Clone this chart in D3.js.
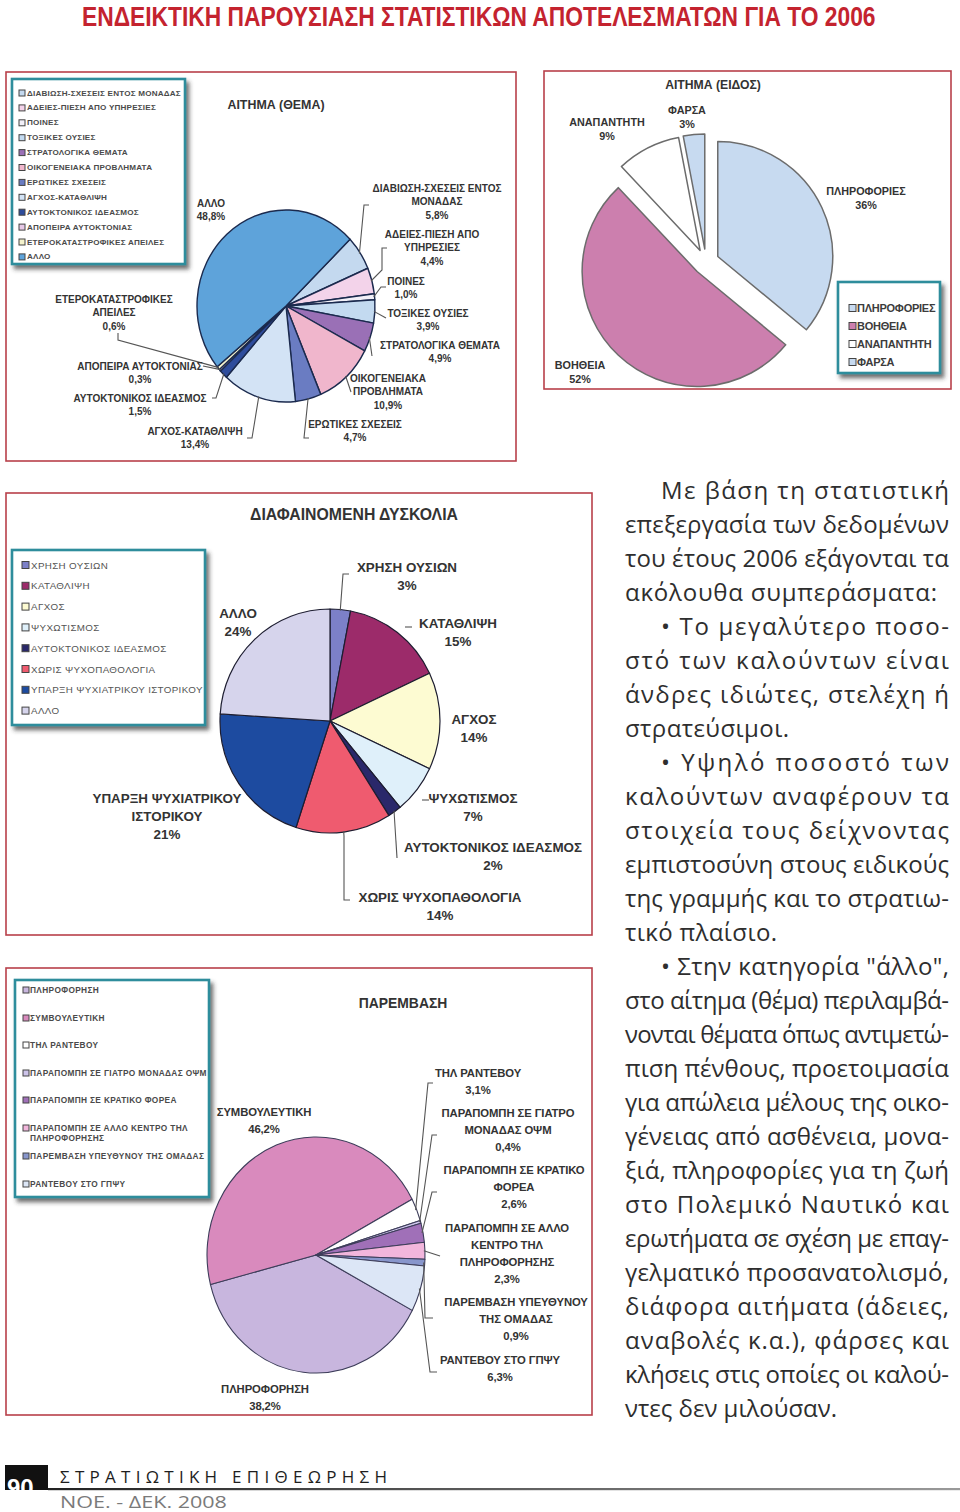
<!DOCTYPE html>
<html><head><meta charset="utf-8">
<script src="https://cdn.jsdelivr.net/npm/d3@7"></script>
<style>body{margin:0;background:#fff}svg{display:block}</style>
</head><body>
<script>
// ================= DATA =================
const pageTitle = "ΕΝΔΕΙΚΤΙΚΗ ΠΑΡΟΥΣΙΑΣΗ ΣΤΑΤΙΣΤΙΚΩΝ ΑΠΟΤΕΛΕΣΜΑΤΩΝ ΓΙΑ ΤΟ 2006";

// Chart 1 – ΑΙΤΗΜΑ (ΘΕΜΑ)
const themeTitle = "ΑΙΤΗΜΑ (ΘΕΜΑ)";
const themeCategories = ["ΔΙΑΒΙΩΣΗ-ΣΧΕΣΕΙΣ ΕΝΤΟΣ ΜΟΝΑΔΑΣ","ΑΔΕΙΕΣ-ΠΙΕΣΗ ΑΠΟ ΥΠΗΡΕΣΙΕΣ","ΠΟΙΝΕΣ","ΤΟΞΙΚΕΣ ΟΥΣΙΕΣ","ΣΤΡΑΤΟΛΟΓΙΚΑ ΘΕΜΑΤΑ","ΟΙΚΟΓΕΝΕΙΑΚΑ ΠΡΟΒΛΗΜΑΤΑ","ΕΡΩΤΙΚΕΣ ΣΧΕΣΕΙΣ","ΑΓΧΟΣ-ΚΑΤΑΘΛΙΨΗ","ΑΥΤΟΚΤΟΝΙΚΟΣ ΙΔΕΑΣΜΟΣ","ΑΠΟΠΕΙΡΑ ΑΥΤΟΚΤΟΝΙΑΣ","ΕΤΕΡΟΚΑΤΑΣΤΡΟΦΙΚΕΣ ΑΠΕΙΛΕΣ","ΑΛΛΟ"];
const themeValues = [5.8,4.4,1.0,3.9,4.9,10.9,4.7,13.4,1.5,0.3,0.6,48.8];
const themeLabelLines = [["ΔΙΑΒΙΩΣΗ-ΣΧΕΣΕΙΣ ΕΝΤΟΣ","ΜΟΝΑΔΑΣ"],["ΑΔΕΙΕΣ-ΠΙΕΣΗ ΑΠΟ","ΥΠΗΡΕΣΙΕΣ"],["ΠΟΙΝΕΣ"],["ΤΟΞΙΚΕΣ ΟΥΣΙΕΣ"],["ΣΤΡΑΤΟΛΟΓΙΚΑ ΘΕΜΑΤΑ"],["ΟΙΚΟΓΕΝΕΙΑΚΑ","ΠΡΟΒΛΗΜΑΤΑ"],["ΕΡΩΤΙΚΕΣ ΣΧΕΣΕΙΣ"],["ΑΓΧΟΣ-ΚΑΤΑΘΛΙΨΗ"],["ΑΥΤΟΚΤΟΝΙΚΟΣ ΙΔΕΑΣΜΟΣ"],["ΑΠΟΠΕΙΡΑ ΑΥΤΟΚΤΟΝΙΑΣ"],["ΕΤΕΡΟΚΑΤΑΣΤΡΟΦΙΚΕΣ","ΑΠΕΙΛΕΣ"],["ΑΛΛΟ"]];

// Chart 2 – ΑΙΤΗΜΑ (ΕΙΔΟΣ)
const typeTitle = "ΑΙΤΗΜΑ (ΕΙΔΟΣ)";
const typeCategories = ["ΠΛΗΡΟΦΟΡΙΕΣ","ΒΟΗΘΕΙΑ","ΑΝΑΠΑΝΤΗΤΗ","ΦΑΡΣΑ"];
const typeValues = [36,52,9,3];

// Chart 3 – ΔΙΑΦΑΙΝΟΜΕΝΗ ΔΥΣΚΟΛΙΑ
const diffTitle = "ΔΙΑΦΑΙΝΟΜΕΝΗ ΔΥΣΚΟΛΙΑ";
const diffCategories = ["ΧΡΗΣΗ ΟΥΣΙΩΝ","ΚΑΤΑΘΛΙΨΗ","ΑΓΧΟΣ","ΨΥΧΩΤΙΣΜΟΣ","ΑΥΤΟΚΤΟΝΙΚΟΣ ΙΔΕΑΣΜΟΣ","ΧΩΡΙΣ ΨΥΧΟΠΑΘΟΛΟΓΙΑ","ΥΠΑΡΞΗ ΨΥΧΙΑΤΡΙΚΟΥ ΙΣΤΟΡΙΚΟΥ","ΑΛΛΟ"];
const diffValues = [3,15,14,7,2,14,21,24];
const diffLabelLines = [["ΧΡΗΣΗ ΟΥΣΙΩΝ"],["ΚΑΤΑΘΛΙΨΗ"],["ΑΓΧΟΣ"],["ΨΥΧΩΤΙΣΜΟΣ"],["ΑΥΤΟΚΤΟΝΙΚΟΣ ΙΔΕΑΣΜΟΣ"],["ΧΩΡΙΣ ΨΥΧΟΠΑΘΟΛΟΓΙΑ"],["ΥΠΑΡΞΗ ΨΥΧΙΑΤΡΙΚΟΥ","ΙΣΤΟΡΙΚΟΥ"],["ΑΛΛΟ"]];

// Chart 4 – ΠΑΡΕΜΒΑΣΗ
const intTitle = "ΠΑΡΕΜΒΑΣΗ";
const intCategories = ["ΠΛΗΡΟΦΟΡΗΣΗ","ΣΥΜΒΟΥΛΕΥΤΙΚΗ","ΤΗΛ ΡΑΝΤΕΒΟΥ","ΠΑΡΑΠΟΜΠΗ ΣΕ ΓΙΑΤΡΟ ΜΟΝΑΔΑΣ ΟΨΜ","ΠΑΡΑΠΟΜΠΗ ΣΕ ΚΡΑΤΙΚΟ ΦΟΡΕΑ","ΠΑΡΑΠΟΜΠΗ ΣΕ ΑΛΛΟ ΚΕΝΤΡΟ ΤΗΛ ΠΛΗΡΟΦΟΡΗΣΗΣ","ΠΑΡΕΜΒΑΣΗ ΥΠΕΥΘΥΝΟΥ ΤΗΣ ΟΜΑΔΑΣ","ΡΑΝΤΕΒΟΥ ΣΤΟ ΓΠΨΥ"];
const intValues = [38.2,46.2,3.1,0.4,2.6,2.3,0.9,6.3];
const intLabelLines = [["ΠΛΗΡΟΦΟΡΗΣΗ"],["ΣΥΜΒΟΥΛΕΥΤΙΚΗ"],["ΤΗΛ ΡΑΝΤΕΒΟΥ"],["ΠΑΡΑΠΟΜΠΗ ΣΕ ΓΙΑΤΡΟ","ΜΟΝΑΔΑΣ ΟΨΜ"],["ΠΑΡΑΠΟΜΠΗ ΣΕ ΚΡΑΤΙΚΟ","ΦΟΡΕΑ"],["ΠΑΡΑΠΟΜΠΗ ΣΕ ΑΛΛΟ","ΚΕΝΤΡΟ ΤΗΛ","ΠΛΗΡΟΦΟΡΗΣΗΣ"],["ΠΑΡΕΜΒΑΣΗ ΥΠΕΥΘΥΝΟΥ","ΤΗΣ ΟΜΑΔΑΣ"],["ΡΑΝΤΕΒΟΥ ΣΤΟ ΓΠΨΥ"]];
const intLegendLines = [["ΠΛΗΡΟΦΟΡΗΣΗ"],["ΣΥΜΒΟΥΛΕΥΤΙΚΗ"],["ΤΗΛ ΡΑΝΤΕΒΟΥ"],["ΠΑΡΑΠΟΜΠΗ ΣΕ ΓΙΑΤΡΟ ΜΟΝΑΔΑΣ ΟΨΜ"],["ΠΑΡΑΠΟΜΠΗ ΣΕ ΚΡΑΤΙΚΟ ΦΟΡΕΑ"],["ΠΑΡΑΠΟΜΠΗ ΣΕ ΑΛΛΟ ΚΕΝΤΡΟ ΤΗΛ","ΠΛΗΡΟΦΟΡΗΣΗΣ"],["ΠΑΡΕΜΒΑΣΗ ΥΠΕΥΘΥΝΟΥ ΤΗΣ ΟΜΑΔΑΣ"],["ΡΑΝΤΕΒΟΥ ΣΤΟ ΓΠΨΥ"]];

// Body text
const bodyLines = [
"Με βάση τη στατιστική","επεξεργασία των δεδομένων","του έτους 2006 εξάγονται τα","ακόλουθα συμπεράσματα:",
"• Το μεγαλύτερο ποσο-","στό των καλούντων είναι","άνδρες ιδιώτες, στελέχη ή","στρατεύσιμοι.",
"• Υψηλό ποσοστό των","καλούντων αναφέρουν τα","στοιχεία τους δείχνοντας","εμπιστοσύνη στους ειδικούς","της γραμμής και το στρατιω-","τικό πλαίσιο.",
"• Στην κατηγορία \"άλλο\",","στο αίτημα (θέμα) περιλαμβά-","νονται θέματα όπως αντιμετώ-","πιση πένθους, προετοιμασία","για απώλεια μέλους της οικο-","γένειας από ασθένεια, μονα-","ξιά, πληροφορίες για τη ζωή","στο Πολεμικό Ναυτικό και","ερωτήματα σε σχέση με επαγ-","γελματικό προσανατολισμό,","διάφορα αιτήματα (άδειες,","αναβολές κ.α.), φάρσες και","κλήσεις στις οποίες οι καλού-","ντες δεν μιλούσαν."];
const footerTitle = "ΣΤΡΑΤΙΩΤΙΚΗ ΕΠΙΘΕΩΡΗΣΗ";
const footerDate = "ΝΟΕ. - ΔΕΚ. 2008";
const pageNumber = "90";

// ================= STYLE / LAYOUT =================
const FONT = "'Liberation Sans', Arial, sans-serif";
const themeColors = ["#c4d9ef","#f3d3ea","#f2f0f8","#c3daf0","#9a70b6","#f0b6cc","#6a7cc2","#d3e3f5","#2e4c9c","#e6c8e6","#f4f2cc","#5ea3da"];
const typeColors = ["#c7daf0","#cc7fae","#ffffff","#c7daf0"];
const diffColors = ["#7c80c8","#9c2b6a","#fdfbd2","#dff0fa","#2a286a","#ef5b6f","#1d4ba0","#d6d4ec"];
const intColors = ["#c8b6de","#d98abd","#ffffff","#cdc4ea","#a070b8","#f2b6dc","#8896cc","#dce6f6"];

const W = 960, H = 1512;
const svg = d3.select("body").append("svg").attr("width",W).attr("height",H);
const defs = svg.append("defs");
const flt = defs.append("filter").attr("id","shadow").attr("x","-10%").attr("y","-10%").attr("width","125%").attr("height","125%");
flt.append("feDropShadow").attr("dx",3).attr("dy",4).attr("stdDeviation",2.2).attr("flood-color","#333").attr("flood-opacity",0.7);
const grad = defs.append("linearGradient").attr("id","fline");
grad.append("stop").attr("offset","0%").attr("stop-color","#222");
grad.append("stop").attr("offset","100%").attr("stop-color","#9a9a9a");

const pctInt = v => d3.format("d")(v) + "%";
const pctDec = v => d3.format(".1f")(v).replace(".", ",") + "%";

// fit a text to a width by adjusting letter spacing
function fitText(t, target){
  const s = t.text();
  const nat = t.node().getComputedTextLength();
  t.attr("letter-spacing", (target-nat)/Math.max(1,s.length-1));
}
// fit a text to a width by horizontal scaling (keeps glyph spacing)
function scaleText(g, t, x, y, target){
  const nat = t.node().getComputedTextLength();
  g.attr("transform",`translate(${x},${y}) scale(${target/nat},1)`);
}

// ---- page title
const tg = svg.append("g");
const ttl = tg.append("text").attr("x",0).attr("y",0)
  .attr("font-family","'Liberation Sans Narrow', 'Liberation Sans', sans-serif").attr("font-weight","bold")
  .attr("font-size",27.5).attr("fill","#c4232f").text(pageTitle);
scaleText(tg, ttl, 82, 26, 794);

// ---- helpers
function frame(x,y,w,h){
  svg.append("rect").attr("x",x).attr("y",y).attr("width",w).attr("height",h)
    .attr("fill","#fff").attr("stroke","#b8404a").attr("stroke-width",1.6);
}
function title(t,x,y,size){
  svg.append("text").attr("x",x).attr("y",y).attr("text-anchor","middle").attr("dominant-baseline","central")
    .attr("font-family",FONT).attr("font-weight","bold").attr("font-size",size).attr("fill","#333").text(t);
}
function drawPie(o){
  const pie = d3.pie().sort(null).value(d=>d).startAngle(o.start).endAngle(o.start+2*Math.PI);
  const arcs = pie(o.values);
  const arc = d3.arc().innerRadius(0).outerRadius(o.rx);
  const g = svg.append("g").attr("transform",`translate(${o.cx},${o.cy}) scale(1,${o.ry/o.rx})`);
  g.selectAll("path").data(arcs).join("path")
    .attr("d",arc).attr("fill",(d,i)=>o.colors[i])
    .attr("stroke",o.stroke).attr("stroke-width",o.sw).attr("stroke-linejoin","round")
    .attr("vector-effect","non-scaling-stroke")
    .attr("transform",d=>{
      if(!o.explode) return null;
      const m=(d.startAngle+d.endAngle)/2;
      return `translate(${o.explode*Math.sin(m)},${-o.explode*Math.cos(m)})`;
    });
  return arcs;
}
function arcPt(d,o,k){
  const m=(d.startAngle+d.endAngle)/2;
  return [o.cx+o.rx*k*Math.sin(m), o.cy-o.ry*k*Math.cos(m)];
}
function leaders(arcs,o,layout){
  layout.forEach((L,i)=>{
    if(!L) return;
    const pts = L.fromArc===false ? L.pts : [arcPt(arcs[i],o,0.99), ...L.pts];
    svg.append("path").attr("d",d3.line()(pts)).attr("fill","none")
      .attr("stroke","#555").attr("stroke-width",1.1);
  });
}
function labels(lines,vals,fmt,layout,size,step,ls){
  layout.forEach((p,i)=>{
    if(!p) return;
    const all = [...lines[i], fmt(vals[i])];
    const t = svg.append("text").attr("text-anchor","middle").attr("font-family",FONT)
      .attr("font-weight","bold").attr("font-size",size).attr("letter-spacing",ls||0).attr("fill","#333");
    all.forEach((s,j)=>{
      t.append("tspan").attr("x",p[0]).attr("y",p[1]+j*step).attr("dominant-baseline","central").text(s);
    });
  });
}
function legend(box,items,ys,opt){
  svg.append("rect").attr("x",box[0]).attr("y",box[1]).attr("width",box[2]).attr("height",box[3])
    .attr("fill","#fff").attr("stroke","#2f8d9c").attr("stroke-width",2.6).attr("filter","url(#shadow)");
  items.forEach((lines,i)=>{
    const y = ys[i];
    svg.append("rect").attr("x",opt.mx).attr("y",y-opt.ms/2).attr("width",opt.ms).attr("height",opt.ms)
      .attr("fill",opt.colors[i]).attr("stroke","#444").attr("stroke-width",1);
    lines.forEach((s,j)=>{
      svg.append("text").attr("x",opt.tx).attr("y",y+j*opt.lstep).attr("dominant-baseline","central")
        .attr("font-family",FONT).attr("font-weight",opt.weight).attr("font-size",opt.size)
        .attr("letter-spacing",opt.ls||0).attr("fill",opt.fill).text(s);
    });
  });
}

// ================= CHART 1 =================
frame(6,72,510,389);
const o1 = {values:themeValues, colors:themeColors, cx:286, cy:306, rx:89, ry:96, start:46*Math.PI/180, stroke:"#1b2a4e", sw:1.4};
const a1 = drawPie(o1);
legend([12,79,173,185], themeCategories.map(s=>[s]), themeCategories.map((_,i)=>93+i*14.9),
  {mx:19,ms:6,tx:27,size:8.1,weight:"bold",fill:"#4a4a4a",colors:themeColors,lstep:10,ls:0.2});
title(themeTitle,276,105,12.4);
leaders(a1,o1,[
  {pts:[[364,205],[369,205]]},
  {pts:[[382,270],[382,248],[387,248]]},
  {pts:[[381,287],[386,287]]},
  {pts:[[386,318]]},
  {pts:[[372,356]]},
  {pts:[[351,392]]},
  {pts:[[304,438],[309,438]]},
  {pts:[[252,438],[247,438]]},
  {pts:[[216,398],[212,398]]},
  {pts:[[203,366]]},
  {pts:[[118,340],[118,333]]},
  null
]);
labels(themeLabelLines, themeValues, pctDec, [
  [437,188],[432,234],[406,281],[428,313],[440,345],[388,378],[355,424],[195,431],[140,398],[140,366],[114,299],[211,203]
], 10, 13.7);

// ================= CHART 2 =================
frame(544,71,407,318);
const o2 = {values:typeValues, colors:typeColors, cx:706, cy:262, rx:115, ry:115, start:0, stroke:"#6c6c6c", sw:1.5, explode:13};
drawPie(o2);
title(typeTitle,713,85,12.2);
labels(typeCategories.map(s=>[s]), typeValues, pctInt, [[866,191],[580,365],[607,122],[687,110]], 10.8, 14);
legend([838,282,102,91], typeCategories.map(s=>[s]), [308,326,344,362],
  {mx:849,ms:7,tx:857,size:11,weight:"bold",fill:"#3c3c3c",colors:typeColors,lstep:10,ls:-0.25});

// ================= CHART 3 =================
frame(6,493,586,442);
const o3 = {values:diffValues, colors:diffColors, cx:330, cy:721, rx:110, ry:112, start:0, stroke:"#1d1d30", sw:1.2};
const a3 = drawPie(o3);
legend([12,550,193,175], diffCategories.map(s=>[s]), diffCategories.map((_,i)=>565+i*20.8),
  {mx:22,ms:7,tx:31,size:9.8,weight:"normal",fill:"#555",colors:diffColors,lstep:10,ls:0.35});
title(diffTitle,354,514,15.8);
leaders(a3,o3,[
  {pts:[[343,574],[349,574]]},
  {fromArc:false, pts:[[405,627],[412,627]]},
  null,
  {fromArc:false, pts:[[422,800],[429,800]]},
  {pts:[[397,858]]},
  {pts:[[344,836],[344,900],[350,900]]},
  null, null
]);
labels(diffLabelLines, diffValues, pctInt, [
  [407,567],[458,623],[474,719],[473,798],[493,847],[440,897],[167,798],[238,613]
], 13.4, 18);

// ================= CHART 4 =================
frame(6,968,586,447);
const o4 = {values:intValues, colors:intColors, cx:316, cy:1255, rx:109, ry:118, start:118*Math.PI/180, stroke:"#3d3d5a", sw:1.1};
const a4 = drawPie(o4);
legend([15,980,194,217], intLegendLines, [990,1018,1045,1073,1100,1128,1156,1184],
  {mx:23,ms:6,tx:30,size:8.3,weight:"bold",fill:"#4a4a4a",colors:intColors,lstep:10,ls:0.35});
title(intTitle,403,1003,13.9);
leaders(a4,o4,[
  null,null,
  {pts:[[428,1083],[433,1083]]},
  {pts:[[432,1135],[437,1135]]},
  {pts:[[432,1192],[437,1192]]},
  {pts:[[440,1256]]},
  {pts:[[425,1318],[433,1318]]},
  {pts:[[430,1372],[437,1372]]}
]);
labels(intLabelLines, intValues, pctDec, [
  [265,1389],[264,1112],[478,1073],[508,1113],[514,1170],[507,1228],[516,1302],[500,1360]
], 11.3, 17, -0.1);

// ================= BODY TEXT =================
const bodyExt = [[661,950],[625,950],[625,950],[625,938],[661,950],[625,950],[625,950],[625,790],
  [661,950],[625,950],[625,950],[625,950],[625,950],[625,778],
  [661,950],[625,950],[625,950],[625,950],[625,950],[625,950],[625,950],[625,950],[625,950],[625,950],[625,950],[625,950],[625,950],[625,838]];
const bt = svg.append("g").attr("font-family","'Open Sans', sans-serif").attr("font-size",24).attr("fill","#2e2e2e");
bodyLines.forEach((s,i)=>{
  const e = bodyExt[i];
  const t = bt.append("text").attr("x",e[0]).attr("y",499+i*34).text(s);
  fitText(t, e[1]-e[0]-1);
});

// ================= FOOTER =================
defs.append("clipPath").attr("id","pn").append("rect").attr("x",5).attr("y",1465).attr("width",43).attr("height",25);
svg.append("rect").attr("x",5).attr("y",1465).attr("width",43).attr("height",25).attr("fill","#111");
svg.append("text").attr("x",7).attr("y",1496).attr("clip-path","url(#pn)")
  .attr("font-family","'Liberation Sans Narrow', sans-serif").attr("font-weight","bold").attr("font-size",24)
  .attr("fill","#fff").text(pageNumber);
svg.append("rect").attr("x",48).attr("y",1488).attr("width",912).attr("height",2.2).attr("fill","url(#fline)");
const ft = svg.append("text").attr("x",60).attr("y",1483).attr("font-family","'Open Sans', sans-serif").attr("font-size",17)
  .attr("fill","#1e1e1e").text(footerTitle);
fitText(ft, 327);
const fdg = svg.append("g");
const fd = fdg.append("text").attr("x",0).attr("y",0).attr("font-family","'Open Sans', sans-serif").attr("font-size",15.5)
  .attr("fill","#7a7a7a").text(footerDate);
scaleText(fdg, fd, 60, 1508, 167);
</script>
</body></html>
